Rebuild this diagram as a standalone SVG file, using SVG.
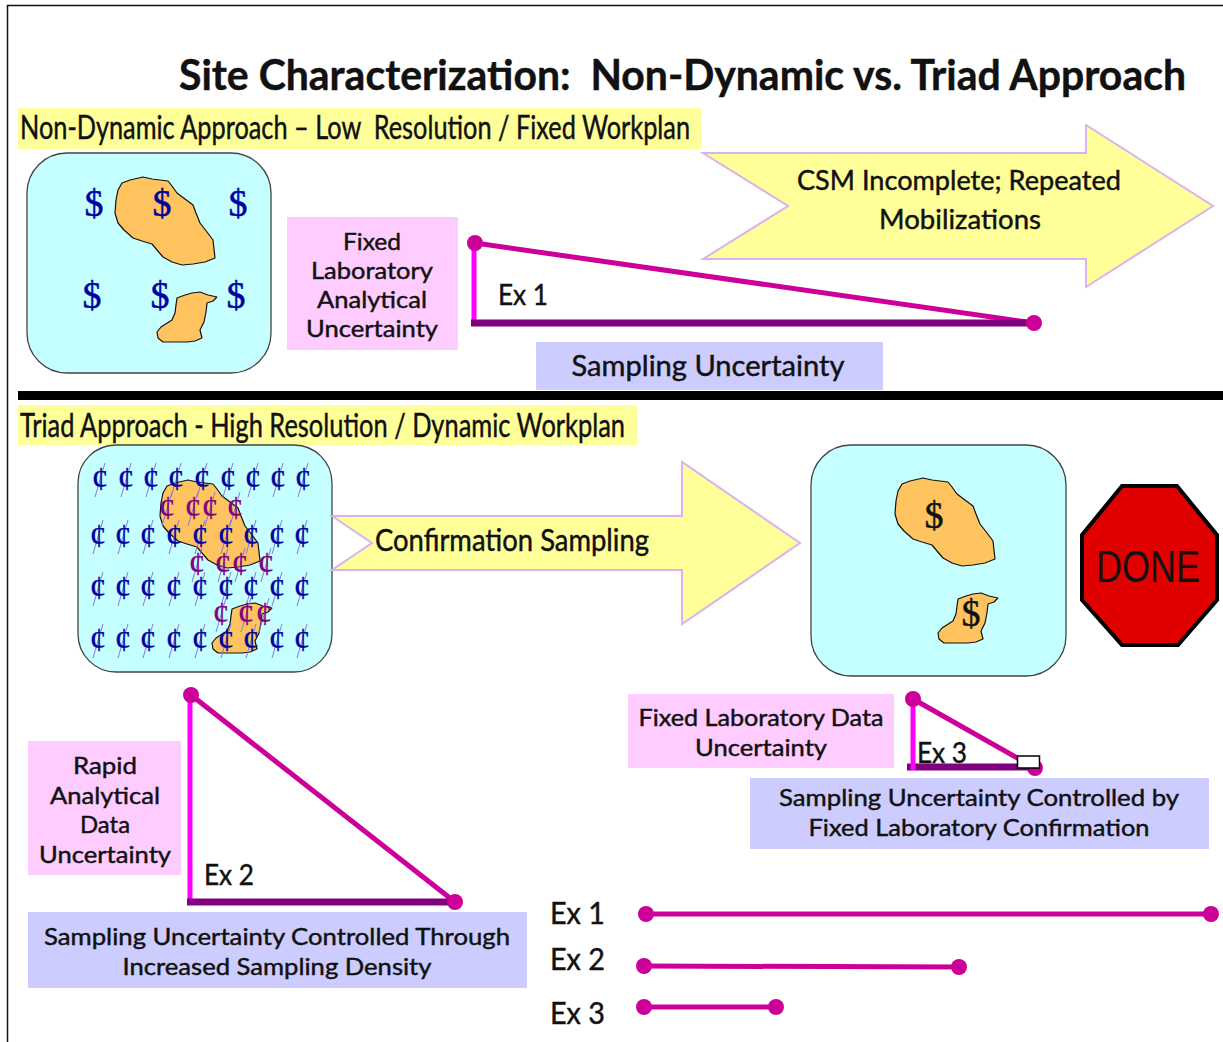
<svg xmlns="http://www.w3.org/2000/svg" width="1223" height="1042" viewBox="0 0 1223 1042">
<style>
text{font-family:Lato,"Liberation Sans",sans-serif;fill:#111;stroke:#111;stroke-width:.45;white-space:pre}
.t{font-size:31px}
.h2{font-size:33px}
.b{font-size:27px;text-anchor:middle}
.st{font-size:24px;text-anchor:middle}
.panel{fill:#c6ffff;stroke:#444;stroke-width:1.3}
.blob{fill:#ffc45f;stroke:#111;stroke-width:1.2;stroke-linejoin:bevel}
.arrow{fill:#ffff99;stroke:#d9b3f0;stroke-width:2}
.pink{fill:#ffccff}.blue{fill:#ccccff}.yel{fill:#ffff99}
.hyp{stroke:#cc0099;stroke-width:5;fill:none}
.v{stroke:#ff00ff;stroke-width:5}
.h{stroke:#800080;stroke-width:7}
.dot{fill:#cc0099}
text.d{font-family:"Liberation Serif",serif;font-size:38px;text-anchor:middle;fill:#0000a0;stroke:#0000a0;stroke-width:.5}
text.dk{fill:#111;stroke:#111}
text.c{font-family:"Liberation Serif",serif;font-size:33px;text-anchor:middle;stroke-width:.3}
text.cb{fill:#0000a0;stroke:#0000a0}
text.cp{fill:#800080;stroke:#800080}
.s{stroke:#8a78d8;stroke-width:1;fill:none}
</style>
<defs>
<path id="b1" class="blob" d="M115 213L116 200L118 190L122 183L130 180L143 177L152 179L160 180L168 181L172 186L177 193L185 199L193 205L196 213L200 223L207 232L213 240L214 249L215 258L205 262L193 264L182 265L172 262L163 257L157 250L152 244L142 241L133 238L124 230L118 223Z"/>
<path id="b2" class="blob" d="M177 298L185 295L192 293L200 292L208 295L217 297L213 301L207 303L206 312L204 322L200 330L202 338L195 341L187 342L175 342L163 342L158 338L157 332L161 327L172 320L175 313L176 305Z"/>
<g id="cb"><line class="s" x1="-5" y1="17" x2="5" y2="-17"/><text class="c cb" y="10">¢</text></g>
<g id="cp"><line class="s" x1="-5" y1="17" x2="5" y2="-17"/><text class="c cp" y="10">¢</text></g>
</defs>
<rect width="1223" height="1042" fill="#fff"/>
<path d="M7.500 1042V5.500H1223" fill="none" stroke="#111" stroke-width="1.500"/>
<text id="title" x="179" y="90" textLength="1007" lengthAdjust="spacingAndGlyphs" style="font-size:42px;font-weight:700">Site Characterization:  Non-Dynamic vs. Triad Approach</text>
<rect x="18" y="391" width="1205" height="9" fill="#000"/>
<g id="heading-nondynamic"><rect class="yel" x="18" y="108" width="683" height="41"/><text class="h2" x="20" y="139" textLength="670" lengthAdjust="spacingAndGlyphs">Non-Dynamic Approach – Low  Resolution / Fixed Workplan</text></g>
<g id="heading-triad"><rect class="yel" x="18" y="405" width="619" height="40"/><text class="h2" x="20" y="437" textLength="605" lengthAdjust="spacingAndGlyphs">Triad Approach - High Resolution / Dynamic Workplan</text></g>

<g id="site-nondynamic">
<rect class="panel" x="27" y="153" width="244" height="220" rx="40"/>
<use href="#b1"/><use href="#b2"/>
<text class="d" x="94" y="216">$</text><text class="d" x="162" y="216">$</text><text class="d" x="238" y="216">$</text>
<text class="d" x="92" y="308">$</text><text class="d" x="160" y="308">$</text><text class="d" x="236" y="308">$</text>
</g>
<g id="arrow-csm"><polygon class="arrow" points="703,153 1086,153 1086,125 1213,206 1086,287 1086,259 703,259 788,206"/>
<text class="b" x="959" y="190" textLength="324" lengthAdjust="spacingAndGlyphs">CSM Incomplete; Repeated</text>
<text class="b" x="960" y="229" textLength="162" lengthAdjust="spacingAndGlyphs">Mobilizations</text></g>
<g id="label-fixed-lab"><rect class="pink" x="287" y="217" width="171" height="133"/>
<text class="st" x="372" y="250" textLength="58" lengthAdjust="spacingAndGlyphs">Fixed</text>
<text class="st" x="372" y="279" textLength="122" lengthAdjust="spacingAndGlyphs">Laboratory</text>
<text class="st" x="372" y="308" textLength="110" lengthAdjust="spacingAndGlyphs">Analytical</text>
<text class="st" x="372" y="337" textLength="132" lengthAdjust="spacingAndGlyphs">Uncertainty</text></g>
<g id="label-sampling"><rect class="blue" x="536" y="342" width="347" height="48"/><text class="b" x="708" y="376" textLength="273" lengthAdjust="spacingAndGlyphs" style="font-size:29px">Sampling Uncertainty</text></g>

<g id="site-triad">
<rect class="panel" x="78" y="445" width="254" height="227" rx="38"/>
<use href="#b1" x="45" y="303"/><use href="#b2" x="55" y="311"/>
<use href="#cb" x="100" y="480"/><use href="#cb" x="126" y="480"/><use href="#cb" x="151" y="480"/><use href="#cb" x="176" y="480"/><use href="#cb" x="202" y="480"/><use href="#cb" x="228" y="480"/><use href="#cb" x="253" y="480"/><use href="#cb" x="278" y="480"/><use href="#cb" x="303" y="480"/>
<use href="#cb" x="98" y="537"/><use href="#cb" x="123" y="537"/><use href="#cb" x="148" y="537"/><use href="#cb" x="174" y="537"/><use href="#cb" x="200" y="537"/><use href="#cb" x="226" y="537"/><use href="#cb" x="251" y="537"/><use href="#cb" x="277" y="537"/><use href="#cb" x="302" y="537"/>
<use href="#cb" x="98" y="589"/><use href="#cb" x="123" y="589"/><use href="#cb" x="148" y="589"/><use href="#cb" x="174" y="589"/><use href="#cb" x="200" y="589"/><use href="#cb" x="226" y="589"/><use href="#cb" x="251" y="589"/><use href="#cb" x="277" y="589"/><use href="#cb" x="302" y="589"/>
<use href="#cb" x="98" y="641"/><use href="#cb" x="123" y="641"/><use href="#cb" x="148" y="641"/><use href="#cb" x="174" y="641"/><use href="#cb" x="200" y="641"/><use href="#cb" x="226" y="641"/><use href="#cb" x="251" y="641"/><use href="#cb" x="277" y="641"/><use href="#cb" x="302" y="641"/>
<use href="#cp" x="167" y="509"/><use href="#cp" x="193" y="509"/><use href="#cp" x="210" y="509"/><use href="#cp" x="235" y="509"/>
<use href="#cp" x="197" y="565"/><use href="#cp" x="223" y="565"/><use href="#cp" x="240" y="565"/><use href="#cp" x="266" y="565"/>
<use href="#cp" x="221" y="615"/><use href="#cp" x="246" y="615"/><use href="#cp" x="264" y="615"/>
</g>
<g id="arrow-confirm"><polygon class="arrow" points="332,516 682,516 682,462 800,543 682,624 682,570 332,570 372,543"/>
<text class="t" x="375" y="551" textLength="274" lengthAdjust="spacingAndGlyphs">Confirmation Sampling</text></g>
<g id="site-final">
<rect class="panel" x="811" y="445" width="255" height="231" rx="40"/>
<use href="#b1" x="780" y="301"/><use href="#b2" x="781" y="301"/>
<text class="d dk" x="934" y="528">$</text><text class="d dk" x="971" y="626">$</text>
</g>
<g id="stop-done"><polygon points="1122,486 1177,486 1217,535 1217,600 1178,645 1122,645 1082,600 1082,535" fill="#e00000" stroke="#000" stroke-width="4"/>
<text x="1148" y="582" text-anchor="middle" textLength="104" lengthAdjust="spacingAndGlyphs" style="font-family:'Liberation Sans',sans-serif;font-size:44px;stroke:none">DONE</text></g>

<g id="label-rapid"><rect class="pink" x="28" y="741" width="153" height="134"/>
<text class="st" x="105" y="774" textLength="64" lengthAdjust="spacingAndGlyphs">Rapid</text>
<text class="st" x="105" y="804" textLength="110" lengthAdjust="spacingAndGlyphs">Analytical</text>
<text class="st" x="105" y="833" textLength="50" lengthAdjust="spacingAndGlyphs">Data</text>
<text class="st" x="105" y="863" textLength="132" lengthAdjust="spacingAndGlyphs">Uncertainty</text></g>
<g id="label-density"><rect class="blue" x="28" y="912" width="499" height="76"/>
<text class="st" x="277" y="945" textLength="466" lengthAdjust="spacingAndGlyphs">Sampling Uncertainty Controlled Through</text>
<text class="st" x="277" y="975" textLength="309" lengthAdjust="spacingAndGlyphs">Increased Sampling Density</text></g>
<g id="label-fixed-data"><rect class="pink" x="628" y="694" width="266" height="74"/>
<text class="st" x="761" y="726" textLength="245" lengthAdjust="spacingAndGlyphs">Fixed Laboratory Data</text>
<text class="st" x="761" y="756" textLength="132" lengthAdjust="spacingAndGlyphs">Uncertainty</text></g>
<g id="label-confirmation"><rect class="blue" x="750" y="778" width="459" height="71"/>
<text class="st" x="979" y="806" textLength="400" lengthAdjust="spacingAndGlyphs">Sampling Uncertainty Controlled by</text>
<text class="st" x="979" y="836" textLength="341" lengthAdjust="spacingAndGlyphs">Fixed Laboratory Confirmation</text></g>

<g id="connectors">
<line class="hyp" x1="475" y1="243" x2="1034" y2="323"/><line class="v" x1="474" y1="243" x2="474" y2="323"/><line class="h" x1="471" y1="323" x2="1034" y2="323"/>
<circle class="dot" cx="475" cy="243" r="8"/><circle class="dot" cx="1034" cy="323" r="8"/>
<line class="hyp" x1="191" y1="695" x2="455" y2="902"/><line class="v" x1="190" y1="695" x2="190" y2="902"/><line class="h" x1="187" y1="902" x2="455" y2="902"/>
<circle class="dot" cx="191" cy="695" r="8"/><circle class="dot" cx="455" cy="902" r="8"/>
<line class="hyp" x1="913" y1="699" x2="1035" y2="768"/><circle class="dot" cx="1035" cy="768" r="8"/><line class="h" x1="907" y1="767" x2="1030" y2="767"/><line class="v" x1="913" y1="699" x2="913" y2="770"/>
<circle class="dot" cx="913" cy="699" r="8"/>
<rect x="1017.500" y="756" width="22" height="12" fill="#fff" stroke="#000" stroke-width="1.500"/>
<line class="hyp" x1="646" y1="914" x2="1211" y2="914"/><circle class="dot" cx="646" cy="914" r="8"/><circle class="dot" cx="1211" cy="914" r="8"/>
<line class="hyp" x1="644" y1="966" x2="959" y2="967"/><circle class="dot" cx="644" cy="966" r="8"/><circle class="dot" cx="959" cy="967" r="8"/>
<line class="hyp" x1="644" y1="1007" x2="776" y2="1007"/><circle class="dot" cx="644" cy="1007" r="8"/><circle class="dot" cx="776" cy="1007" r="8"/>
</g>
<g id="ex-labels">
<text class="t" x="498" y="305" textLength="50" lengthAdjust="spacingAndGlyphs" style="font-size:29px">Ex 1</text>
<text class="t" x="204" y="885" textLength="50" lengthAdjust="spacingAndGlyphs" style="font-size:29px">Ex 2</text>
<text class="t" x="917" y="763" textLength="50" lengthAdjust="spacingAndGlyphs" style="font-size:29px">Ex 3</text>
<text class="t" x="550" y="924" textLength="55" lengthAdjust="spacingAndGlyphs">Ex 1</text>
<text class="t" x="550" y="970" textLength="55" lengthAdjust="spacingAndGlyphs">Ex 2</text>
<text class="t" x="550" y="1024" textLength="55" lengthAdjust="spacingAndGlyphs">Ex 3</text>
</g>
</svg>
